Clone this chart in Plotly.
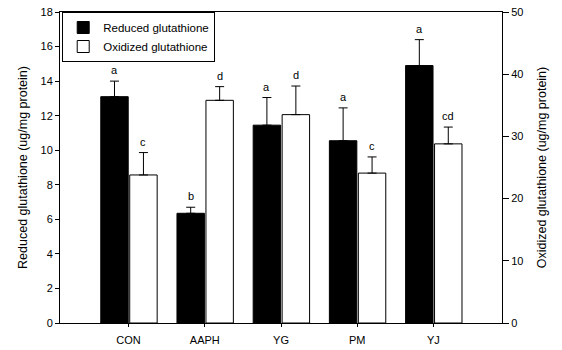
import plotly.graph_objects as go

categories = ["CON", "AAPH", "YG", "PM", "YJ"]
reduced = [13.1, 6.35, 11.45, 10.55, 14.9]
reduced_err = [0.9, 0.35, 1.6, 1.9, 1.5]
oxidized = [23.8, 35.8, 33.5, 24.1, 28.8]
oxidized_err = [3.6, 2.2, 4.6, 2.6, 2.7]
reduced_letters = ["a", "b", "a", "a", "a"]
oxidized_letters = ["c", "d", "d", "c", "cd"]

xpos = list(range(len(categories)))
FONT = "Liberation Sans, Arial, sans-serif"

B_OFF, B_W = -0.365, 0.36
W_OFF, W_W = 0.015, 0.36

fig = go.Figure()
fig.add_trace(go.Bar(
    x=xpos, y=reduced, name="Reduced glutathione",
    offset=B_OFF, width=B_W,
    marker=dict(color="black", line=dict(color="black", width=1)),
    error_y=dict(type="data", array=reduced_err, arrayminus=[0]*5, symmetric=False,
                 color="black", thickness=1, width=4.5),
    yaxis="y",
))
fig.add_trace(go.Bar(
    x=xpos, y=oxidized, name="Oxidized glutathione",
    offset=W_OFF, width=W_W,
    marker=dict(color="white", line=dict(color="black", width=1)),
    error_y=dict(type="data", array=oxidized_err, arrayminus=[0]*5, symmetric=False,
                 color="black", thickness=1, width=4.5),
    yaxis="y2",
))

annotations = []
for i in xpos:
    annotations.append(dict(x=i + B_OFF + B_W / 2, y=reduced[i] + reduced_err[i], xref="x", yref="y",
                            text=reduced_letters[i], showarrow=False, yanchor="bottom", yshift=3,
                            font=dict(family=FONT, size=11, color="black")))
    annotations.append(dict(x=i + W_OFF + W_W / 2, y=oxidized[i] + oxidized_err[i], xref="x", yref="y2",
                            text=oxidized_letters[i], showarrow=False, yanchor="bottom", yshift=3,
                            font=dict(family=FONT, size=11, color="black")))

fig.update_layout(
    width=562, height=350,
    margin=dict(l=60, r=60, t=12, b=27, autoexpand=False),
    paper_bgcolor="white", plot_bgcolor="white",
    barmode="overlay",
    font=dict(family=FONT, size=11, color="black"),
    showlegend=True,
    legend=dict(x=0.005, y=1, xanchor="left", yanchor="top",
                bordercolor="black", borderwidth=1, bgcolor="white",
                font=dict(family=FONT, size=11.5, color="black"),
                tracegroupgap=0, itemwidth=30),
    xaxis=dict(range=[-0.9, 4.9], tickvals=xpos, ticktext=categories,
               showline=True, linecolor="black", linewidth=1, mirror=True,
               ticks="outside", ticklen=3, tickcolor="black", showgrid=False, zeroline=False,
               tickfont=dict(family=FONT, size=11), ticklabelstandoff=4, automargin=False),
    yaxis=dict(range=[0, 18], dtick=2, showline=True, linecolor="black", linewidth=1,
               ticks="outside", ticklen=4, tickcolor="black", showgrid=False, zeroline=False,
               tickfont=dict(family=FONT, size=11), automargin=False,
               title=dict(text="Reduced glutathione (ug/mg protein)",
                          font=dict(family=FONT, size=12.5), standoff=10)),
    yaxis2=dict(range=[0, 50], dtick=10, overlaying="y", side="right",
                showline=True, linecolor="black", linewidth=1,
                ticks="outside", ticklen=6, tickcolor="black", showgrid=False, zeroline=False,
                tickfont=dict(family=FONT, size=11), automargin=False,
                title=dict(text="Oxidized glutathione (ug/mg protein)",
                           font=dict(family=FONT, size=12.5), standoff=14)),
    annotations=annotations,
)

fig.write_html("out.html")
